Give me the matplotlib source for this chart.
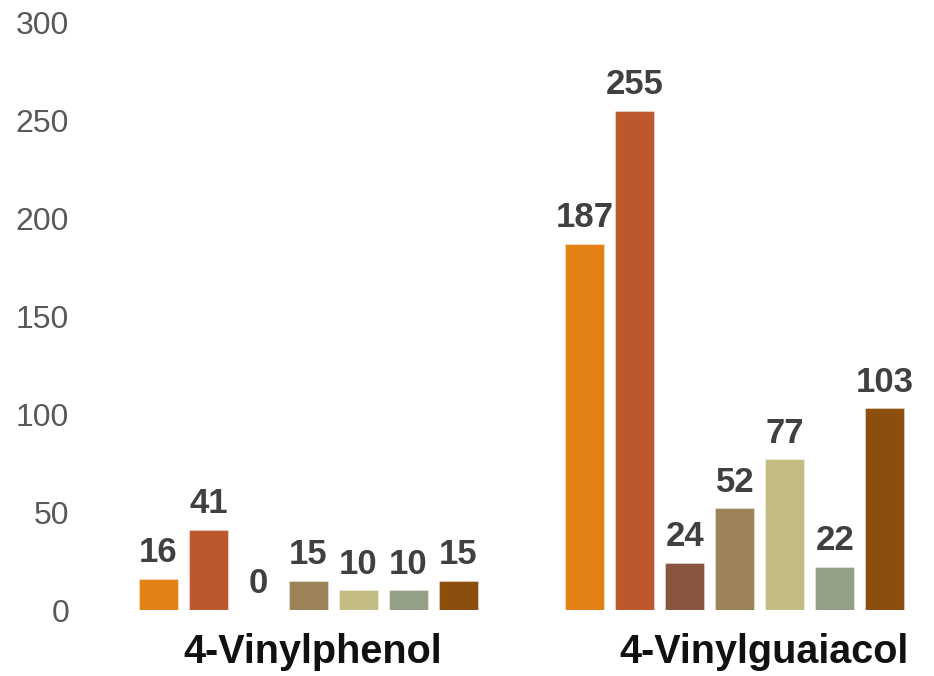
import matplotlib
matplotlib.use("Agg")
import matplotlib.pyplot as plt
import numpy as np

plt.rcParams['font.family'] = ['Liberation Sans', 'DejaVu Sans']

# Compounds (x groups) and the seven samples plotted within each group
compounds = ["4-Vinylphenol", "4-Vinylguaiacol"]
vinylphenol = [16, 41, 0, 15, 10, 10, 15]
vinylguaiacol = [187, 255, 24, 52, 77, 22, 103]
series_colors = ["#E48115", "#BD582C", "#875540", "#9C8357",
                 "#C3BC82", "#939F87", "#8B4E0D"]
y_ticks = [0, 50, 100, 150, 200, 250, 300]

values = np.array([vinylphenol, vinylguaiacol])  # shape (groups, series)
n_series = values.shape[1]
pitch = 0.1172
width = 0.0914
group_x = np.arange(len(compounds))

fig = plt.figure(figsize=(9.34, 6.76), dpi=100)
ax = fig.add_axes([0.091, 0.0976, 0.894, 0.8691])

for i in range(n_series):
    xs = group_x + (i - (n_series - 1) / 2) * pitch
    bars = ax.bar(xs, values[:, i], width=width, color=series_colors[i],
                  edgecolor=(1, 1, 1, 0.35), linewidth=0.8, zorder=2)
    for rect, v in zip(bars, values[:, i]):
        ax.annotate(f"{v:g}", xy=(rect.get_x() + rect.get_width() / 2, v),
                    xytext=(0, 12), textcoords="offset points",
                    ha="center", va="baseline", fontsize=25,
                    fontweight="bold", color="#404040")

ax.set_ylim(0, 300)
ax.set_xlim(-0.524, 1.434)
ax.set_yticks(y_ticks)
ax.set_yticklabels([str(t) for t in y_ticks])
ax.tick_params(axis="y", length=0, pad=11.5, labelsize=23, labelcolor="#595959")
ax.set_xticks([])
for s in ax.spines.values():
    s.set_visible(False)

# Compound names below each group
label_shift = [4.5, 29]
for gx, name, dx in zip(group_x, compounds, label_shift):
    ax.annotate(name, xy=(gx, 0), xycoords=("data", "axes fraction"),
                xytext=(dx * 0.72, -53 * 0.72), textcoords="offset points",
                ha="center", va="baseline", fontsize=28.5, fontweight="bold",
                color="#111111")

fig.savefig("out.png", dpi=100)
